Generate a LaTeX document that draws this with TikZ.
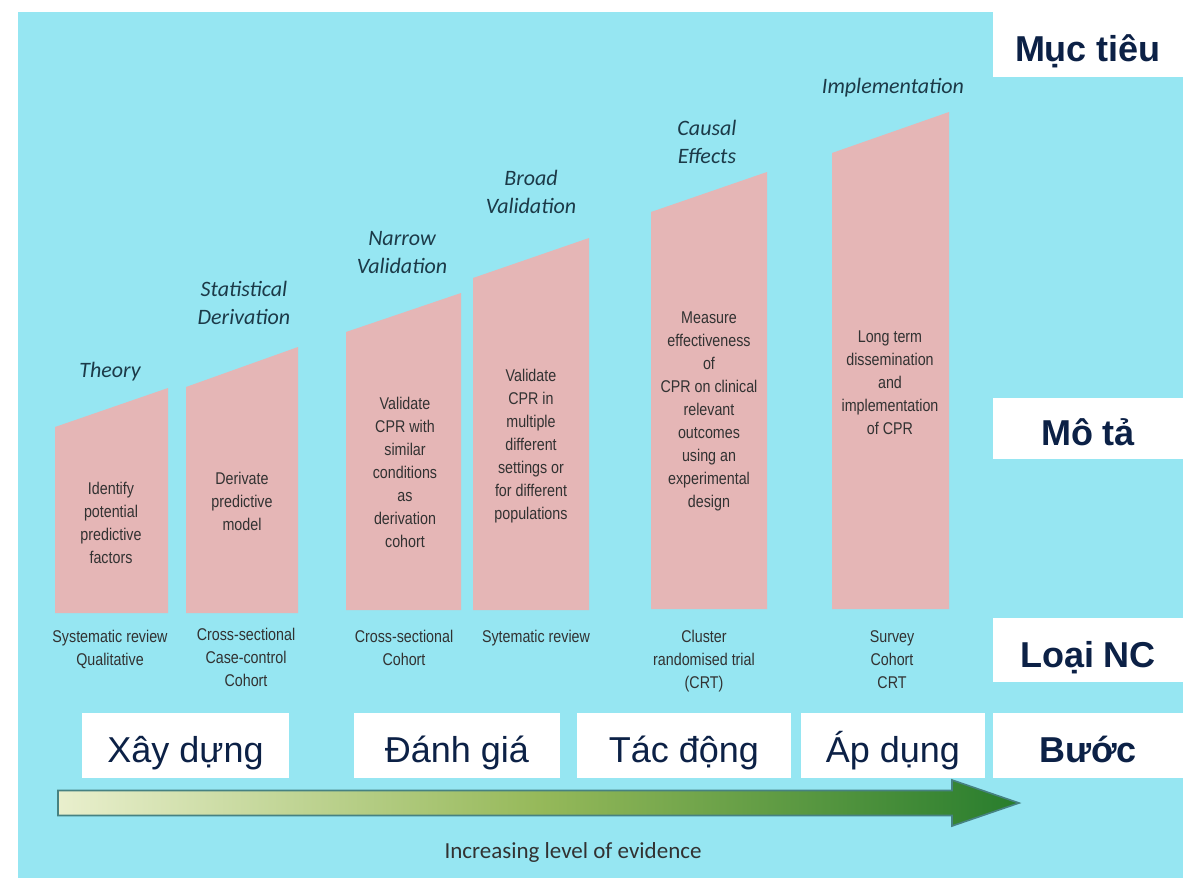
\documentclass[tikz,border=0pt]{standalone}
\usepackage{fontspec}
\setmainfont{Liberation Sans}
\newfontfamily\calfont{Carlito}
\newfontfamily\narrowfont[FakeStretch=0.84]{Liberation Sans}
\usetikzlibrary{positioning,calc}
\definecolor{bgcyan}{RGB}{150,230,242}
\definecolor{barpink}{RGB}{229,182,182}
\definecolor{goalteal}{RGB}{28,58,72}
\definecolor{bodygray}{RGB}{50,50,50}
\definecolor{navyblue}{RGB}{12,33,70}
\definecolor{evpale}{RGB}{233,239,205}
\definecolor{evmid}{RGB}{150,185,90}
\definecolor{evdark}{RGB}{40,125,45}
\definecolor{evedge}{RGB}{70,130,130}

\begin{document}
\begin{tikzpicture}[
  x=0.5pt, y=-0.5pt,
  bar/.style={fill=barpink},
  goal/.style={font=\calfont\itshape\fontsize{11}{14}\selectfont, text=goalteal, align=center, inner sep=0pt},
  desc/.style={font=\narrowfont\fontsize{8.5}{11.5}\selectfont, text=bodygray, align=center, inner sep=0pt},
  stepbox/.style={fill=white, text=navyblue, font=\fontsize{18}{20}\selectfont, minimum height=32.5pt,
    text height=20pt, text depth=3pt, inner sep=0pt},
  rowlabel/.style={fill=white, text=navyblue, font=\bfseries\fontsize{18}{20}\selectfont, minimum width=95pt,
    text height=20pt, text depth=3pt, inner sep=0pt}
]
\useasboundingbox (0,0) rectangle (1200,895);
\fill[bgcyan] (18,12) rectangle (1183,878);

% --- rising bars, one per goal ---
\fill[bar] (55,613) -- (55,427) -- (168,388) -- (168,613) -- cycle;
\fill[bar] (186,613) -- (186,387) -- (298,347) -- (298,613) -- cycle;
\fill[bar] (346,610) -- (346,332) -- (461,293) -- (461,610) -- cycle;
\fill[bar] (473,610) -- (473,278) -- (589,238) -- (589,610) -- cycle;
\fill[bar] (651,609) -- (651,212) -- (767,172) -- (767,609) -- cycle;
\fill[bar] (832,609) -- (832,153) -- (949,112) -- (949,609) -- cycle;

% --- goals ---
\node[goal] (theory) at (110,372) {Theory};
\node[goal] (statder) at (244,303) {Statistical\\Derivation};
\node[goal] (narrow) at (402,253) {Narrow\\Validation};
\node[goal] (broad) at (531,192) {Broad\\Validation};
\node[goal] (causal) at (707,142) {Causal\\Effects};
\node[goal] (implem) at (893,88) {Implementation};

% --- descriptions inside the bars ---
\node[desc] (dtheory) at (111,523) {Identify\\potential\\predictive\\factors};
\node[desc] (dstatder) at (242,501) {Derivate\\predictive\\model};
\node[desc] (dnarrow) at (405,472) {Validate\\CPR with\\similar\\conditions\\as\\derivation\\cohort};
\node[desc] (dbroad) at (531,446) {Validate\\CPR in\\multiple\\different\\settings or\\for different\\populations};
\node[desc] (dcausal) at (709,411) {Measure\\effectiveness\\of\\CPR on clinical\\relevant\\outcomes\\using an\\experimental\\design};
\node[desc] (dimplem) at (890,383) {Long term\\dissemination\\and\\implementation\\of CPR};

% --- study designs below the bars ---
\node[desc, anchor=north] (stheory) at (110,630) {Systematic review\\Qualitative};
\node[desc, anchor=north] (sstatder) at (246,628) {Cross-sectional\\Case-control\\Cohort};
\node[desc, anchor=north] (snarrow) at (404,630) {Cross-sectional\\Cohort};
\node[desc, anchor=north] (sbroad) at (536,630) {Sytematic review};
\node[desc, anchor=north] (scausal) at (704,630) {Cluster\\randomised trial\\(CRT)};
\node[desc, anchor=north] (simplem) at (892,630) {Survey\\Cohort\\CRT};

% --- steps ---
\node[stepbox, minimum width=103.5pt] (xaydung) at (185.5,745.5) {Xây dựng};
\node[stepbox, minimum width=103pt] (danhgia) at (457,745.5) {Đánh giá};
\node[stepbox, minimum width=107pt] (tacdong) at (684,745.5) {Tác động};
\node[stepbox, minimum width=92pt] (apdung) at (893,745.5) {Áp dụng};

% --- row labels on the right ---
\node[rowlabel, minimum height=32.5pt] (muctieu) at (1088,44.5) {Mục tiêu};
\node[rowlabel, minimum height=30.5pt] (mota) at (1088,428.5) {Mô tả};
\node[rowlabel, minimum height=32pt] (loainc) at (1088,650) {Loại NC};
\node[rowlabel, minimum height=32.5pt] (buoc) at (1088,745.5) {Bước};

% --- evidence arrow ---
\coordinate (evstart) at (58,803);
\coordinate (evtip) at (1019,803);
\filldraw[draw=evedge, line width=0.8pt, left color=evpale, right color=evdark, middle color=evmid]
  ($(evstart)+(0,-12.5)$) -- (952,790.5) -- (952,780) -- (evtip) -- (952,826)
  -- (952,815.5) -- ($(evstart)+(0,12.5)$) -- cycle;
\node[font=\calfont\fontsize{11.5}{14}\selectfont, text=bodygray] (evlabel) at (573,852) {Increasing level of evidence};
\end{tikzpicture}
\end{document}
